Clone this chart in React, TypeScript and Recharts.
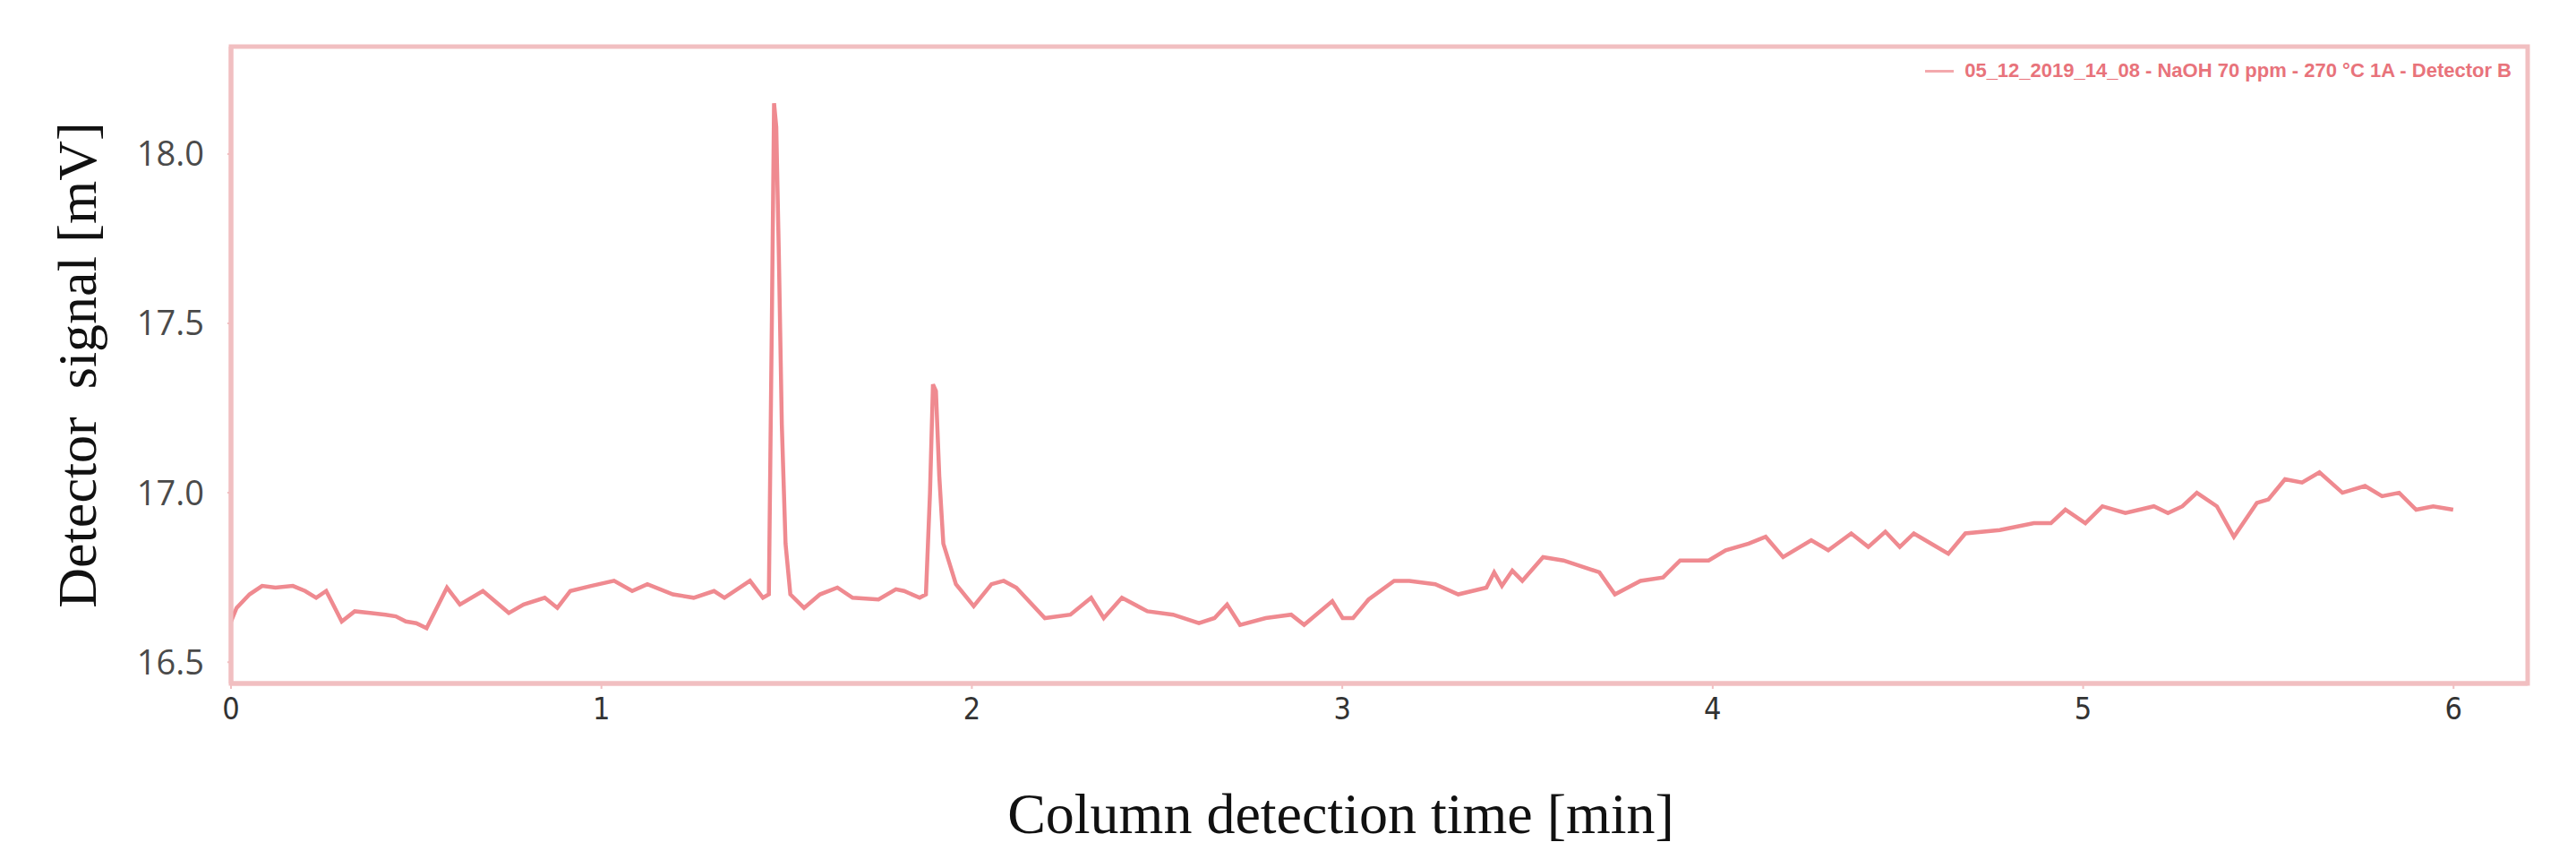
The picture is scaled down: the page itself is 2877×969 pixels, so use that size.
import { LineChart, Line, XAxis, YAxis, ReferenceArea, Legend } from 'recharts';

// retention time [min]
const times = [
    0.0, 0.015, 0.05, 0.084, 0.12, 0.167, 0.2, 0.23, 0.257, 0.299, 0.334, 0.375, 0.417, 0.445, 0.472, 0.5,
    0.528, 0.583, 0.618, 0.68, 0.75, 0.79, 0.847, 0.881, 0.916, 0.972, 1.034, 1.083, 1.124, 1.193, 1.249,
    1.304, 1.332, 1.401, 1.436, 1.452, 1.46, 1.466, 1.472, 1.479, 1.487, 1.497, 1.51, 1.547, 1.59, 1.637,
    1.678, 1.748, 1.795, 1.817, 1.859, 1.876, 1.887, 1.895, 1.903, 1.912, 1.923, 1.957, 2.005, 2.053, 2.086,
    2.12, 2.197, 2.266, 2.322, 2.356, 2.405, 2.474, 2.543, 2.613, 2.655, 2.689, 2.724, 2.793, 2.862, 2.897,
    2.973, 3.001, 3.029, 3.071, 3.14, 3.181, 3.251, 3.313, 3.389, 3.41, 3.431, 3.459, 3.486, 3.542, 3.597,
    3.694, 3.736, 3.805, 3.866, 3.912, 3.989, 4.035, 4.097, 4.143, 4.19, 4.266, 4.312, 4.374, 4.42, 4.466,
    4.505, 4.543, 4.589, 4.636, 4.682, 4.775, 4.867, 4.913, 4.952, 5.006, 5.052, 5.114, 5.191, 5.229, 5.268,
    5.307, 5.361, 5.407, 5.469, 5.5, 5.545, 5.591, 5.638, 5.7, 5.761, 5.807, 5.853, 5.899, 5.945, 5.999,
];

// detector signal [mV]
const signal = [
    16.62, 16.66, 16.7, 16.725, 16.72, 16.725, 16.71, 16.69, 16.71, 16.62, 16.65, 16.645, 16.64, 16.635, 16.62, 16.615,
    16.6, 16.72, 16.67, 16.71, 16.645, 16.67, 16.69, 16.66, 16.71, 16.725, 16.74, 16.71, 16.73, 16.7, 16.69,
    16.71, 16.69, 16.74, 16.69, 16.7, 17.5, 18.15, 18.08, 17.7, 17.2, 16.85, 16.7, 16.66, 16.7, 16.72,
    16.69, 16.685, 16.715, 16.71, 16.69, 16.7, 17.0, 17.32, 17.3, 17.05, 16.85, 16.73, 16.665, 16.73, 16.74,
    16.72, 16.63, 16.64, 16.69, 16.63, 16.69, 16.65, 16.64, 16.615, 16.63, 16.67, 16.61, 16.63, 16.64, 16.61,
    16.68, 16.63, 16.63, 16.685, 16.74, 16.74, 16.73, 16.7, 16.72, 16.765, 16.725, 16.77, 16.74, 16.81, 16.8,
    16.765, 16.7, 16.74, 16.75, 16.8, 16.8, 16.83, 16.85, 16.87, 16.81, 16.86, 16.83, 16.88, 16.84, 16.885,
    16.84, 16.88, 16.85, 16.82, 16.88, 16.89, 16.91, 16.91, 16.95, 16.91, 16.96, 16.94, 16.96, 16.94, 16.96,
    17.0, 16.96, 16.87, 16.97, 16.98, 17.04, 17.03, 17.06, 17.0, 17.02, 16.99, 17.0, 16.95, 16.96, 16.95,
];

const xTicks = [0, 1, 2, 3, 4, 5, 6];
const yTicks = [16.5, 17.0, 17.5, 18.0];
const seriesName = '05_12_2019_14_08 - NaOH 70 ppm - 270 °C 1A - Detector B';

const data = times.map((t, i) => ({ t, v: signal[i] }));

const frameColor = '#f1bfc1';
const lineColor = '#ef8a90';

const LegendBox = () => (
    <div style={{ display: 'flex', alignItems: 'center', fontFamily: 'Arial, sans-serif', fontSize: 22, fontWeight: 'bold', color: '#e8737b', whiteSpace: 'nowrap' }}>
        <span style={{ display: 'inline-block', width: 32, height: 3, background: '#f3a9ad', marginRight: 12 }} />
        <span>{seriesName}</span>
    </div>
);

const YTitle = ({ viewBox }: any) => {
    const cy = viewBox.y + viewBox.height / 2;
    return (
        <text x={86} y={cy} transform={`rotate(-90, 86, ${cy})`} textAnchor="middle" dominantBaseline="central"
            style={{ fontFamily: '"Liberation Serif", serif', fontSize: 62, fill: '#111', whiteSpace: 'pre' }}>
            {'Detector  signal [mV]'}
        </text>
    );
};

const XTitle = ({ viewBox }: any) => (
    <text x={viewBox.x + viewBox.width / 2 - 43} y={908} textAnchor="middle" dominantBaseline="central"
        style={{ fontFamily: '"Liberation Serif", serif', fontSize: 64, fill: '#111' }}>
        Column detection time [min]
    </text>
);

export default function App() {
    return (
        <div style={{ position: 'absolute', left: 0, top: 0, width: 2877, height: 969, background: '#fff' }}>
            <LineChart width={2877} height={969} data={data} margin={{ top: 52, right: 54, left: 0, bottom: 66 }}>
                <XAxis
                    dataKey="t"
                    type="number"
                    domain={[0, 6.2]}
                    ticks={xTicks}
                    height={140}
                    axisLine={{ stroke: frameColor, strokeWidth: 5 }}
                    tickLine={{ stroke: frameColor, strokeWidth: 2 }}
                    tickSize={6}
                    tickMargin={10}
                    tick={{ fill: '#333', fontSize: 34, fontFamily: '"Liberation Sans Narrow", "DejaVu Sans Condensed", Roboto, sans-serif' }}
                    label={{ content: XTitle }}
                />
                <YAxis
                    type="number"
                    domain={[16.437, 18.317]}
                    ticks={yTicks}
                    width={258}
                    allowDataOverflow
                    axisLine={{ stroke: frameColor, strokeWidth: 5 }}
                    tickLine={{ stroke: frameColor, strokeWidth: 2 }}
                    tickSize={4}
                    tickMargin={26}
                    tickFormatter={(v: number) => v.toFixed(1)}
                    tick={{ fill: '#4a4a4a', fontSize: 38, fontFamily: '"Open Sans", sans-serif' }}
                    label={{ content: YTitle }}
                />
                <ReferenceArea x1={0} x2={6.2} y1={16.437} y2={18.317} fill="none" stroke={frameColor} strokeWidth={5} ifOverflow="visible" />
                <Legend
                    layout="vertical"
                    align="center"
                    verticalAlign="middle"
                    content={LegendBox}
                    wrapperStyle={{ top: 66, right: 72, left: 'auto', bottom: 'auto', width: 'auto' }}
                />
                <Line
                    type="linear"
                    dataKey="v"
                    name={seriesName}
                    stroke={lineColor}
                    strokeWidth={4.5}
                    dot={false}
                    isAnimationActive={false}
                />
            </LineChart>
        </div>
    );
}
